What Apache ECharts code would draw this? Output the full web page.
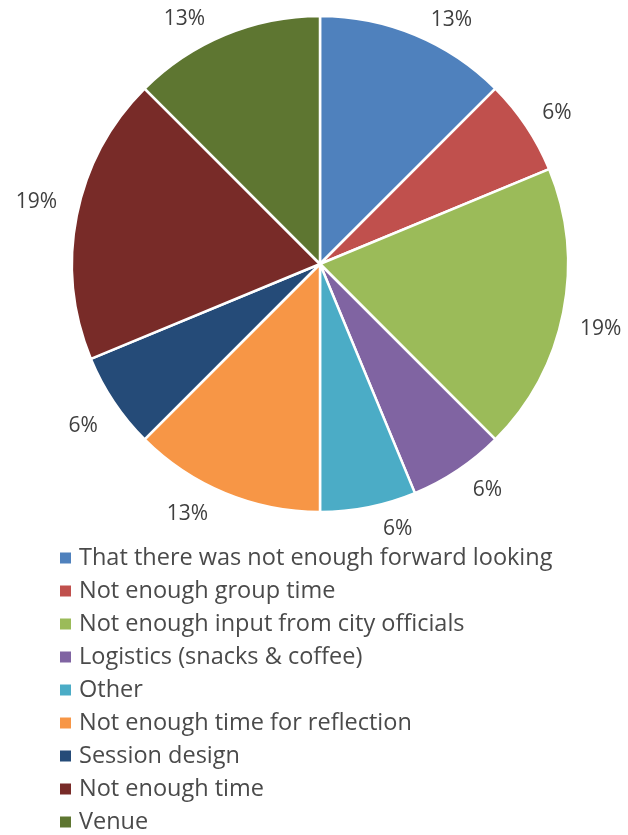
<!DOCTYPE html>
<html>
<head>
<meta charset="utf-8">
<script src="https://cdn.jsdelivr.net/npm/echarts@6/dist/echarts.min.js"></script>
<style>
  html, body { margin: 0; padding: 0; background: #ffffff; }
  #chart { width: 628px; height: 835px; }
</style>
</head>
<body>
<div id="chart"></div>
<script>
// Survey responses: what could have been better
const categories = [
  'That there was not enough forward looking',
  'Not enough group time',
  'Not enough input from city officials',
  'Logistics (snacks & coffee)',
  'Other',
  'Not enough time for reflection',
  'Session design',
  'Not enough time',
  'Venue'
];
const responses = [2, 1, 3, 1, 1, 2, 1, 3, 2];
const sliceColors = [
  '#4F81BD', '#C0504D', '#9BBB59', '#8064A2', '#4BACC6',
  '#F79646', '#254B78', '#782B28', '#5E7631'
];
// Small nudges [dx, dy] for each percentage label around the rim
const labelNudges = [
  [4, 2], [-4, -3], [-6, 13], [0, 5], [6, 4],
  [-5, 4], [4, 14], [3, -10], [-8, 1]
];

const chart = echarts.init(document.getElementById('chart'), null, { renderer: 'canvas' });

const pieData = categories.map((name, i) => ({
  name: name,
  value: responses[i],
  itemStyle: { color: sliceColors[i] }
}));

chart.setOption({
  animation: false,
  backgroundColor: '#ffffff',
  textStyle: { fontFamily: 'Open Sans' },
  legend: {
    orient: 'vertical',
    left: 58,
    top: 546,
    bottom: 0,
    padding: 0,
    itemWidth: 13,
    itemHeight: 13,
    itemGap: 9,
    icon: 'rect',
    selectedMode: false,
    data: categories,
    textStyle: {
      fontFamily: 'Open Sans',
      fontSize: 23.5,
      lineHeight: 23.5,
      color: '#4a4a4a',
      padding: [0, 0, 0, 2]
    }
  },
  series: [{
    type: 'pie',
    center: [320, 264],
    radius: 248,
    startAngle: 90,
    clockwise: true,
    avoidLabelOverlap: false,
    data: pieData,
    itemStyle: { borderColor: '#ffffff', borderWidth: 2.5 },
    label: {
      show: true,
      position: 'outside',
      formatter: (p) => Math.round(p.percent) + '%',
      fontFamily: 'Open Sans',
      fontSize: 21,
      color: '#3f3f3f'
    },
    labelLine: { show: false, length: 18, length2: 0 },
    labelLayout: (params) => ({
      dx: labelNudges[params.dataIndex][0],
      dy: labelNudges[params.dataIndex][1]
    })
  }]
});
</script>
</body>
</html>
